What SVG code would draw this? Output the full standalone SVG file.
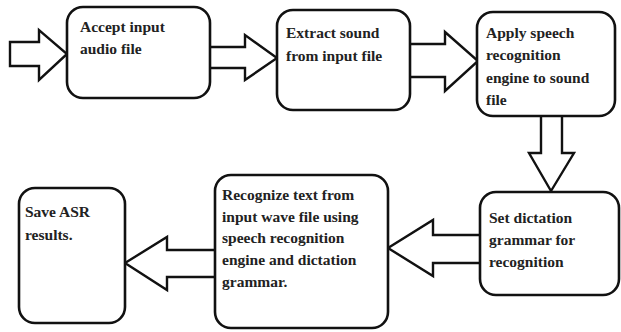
<svg xmlns="http://www.w3.org/2000/svg" width="621" height="332" viewBox="0 0 621 332">
<style>
.box{fill:#fff;stroke:#111;stroke-width:2.6}
.arr{fill:#fff;stroke:#111;stroke-width:2.4;stroke-linejoin:miter}
.t{font-family:'Liberation Serif','Times New Roman',serif;font-weight:700;font-size:15.5px;fill:#222}
</style>
<rect width="621" height="332" fill="#fff"/>
<g id="connectors">
<path class="arr" d="M10,42 L39,42 L39,30 L67,54 L39,80 L39,66 L10,66 Z"/>
<path class="arr" d="M210,47 L245,47 L245,35 L277,58 L245,80 L245,68 L210,68"/>
<path class="arr" d="M410,44 L445,44 L445,32 L478,61 L445,91 L445,77 L410,77"/>
<path class="arr" d="M541,116 L541,153 L529,153 L551,191 L574,153 L562,153 L562,116"/>
<path class="arr" d="M480,235 L433,235 L433,220 L388,248 L433,276 L433,263 L480,263"/>
<path class="arr" d="M215,250 L167,250 L167,237 L125,263 L167,290 L167,277 L215,277"/>
</g>
<g id="n1">
<rect class="box" x="67" y="7" width="143" height="91" rx="16"/>
<text class="t" x="80" y="32">Accept input</text>
<text class="t" x="80" y="54">audio file</text>
</g>
<g id="n2">
<rect class="box" x="277" y="10" width="133" height="100" rx="16"/>
<text class="t" x="286" y="38">Extract sound</text>
<text class="t" x="286" y="61">from input file</text>
</g>
<g id="n3">
<rect class="box" x="477" y="12" width="138" height="104" rx="16"/>
<text class="t" x="486" y="38">Apply speech</text>
<text class="t" x="486" y="60">recognition</text>
<text class="t" x="486" y="83">engine to sound</text>
<text class="t" x="486" y="105">file</text>
</g>
<g id="n4">
<rect class="box" x="480" y="192" width="139" height="103" rx="16"/>
<text class="t" x="489" y="223">Set dictation</text>
<text class="t" x="489" y="245">grammar for</text>
<text class="t" x="489" y="267">recognition</text>
</g>
<g id="n5">
<rect class="box" x="215" y="175" width="173" height="153" rx="16"/>
<text class="t" x="222" y="200">Recognize text from</text>
<text class="t" x="222" y="222">input wave file using</text>
<text class="t" x="222" y="243">speech recognition</text>
<text class="t" x="222" y="265">engine and dictation</text>
<text class="t" x="222" y="287">grammar.</text>
</g>
<g id="n6">
<rect class="box" x="19" y="188" width="106" height="135" rx="16"/>
<text class="t" x="25" y="217">Save ASR</text>
<text class="t" x="25" y="240">results.</text>
</g>
</svg>
